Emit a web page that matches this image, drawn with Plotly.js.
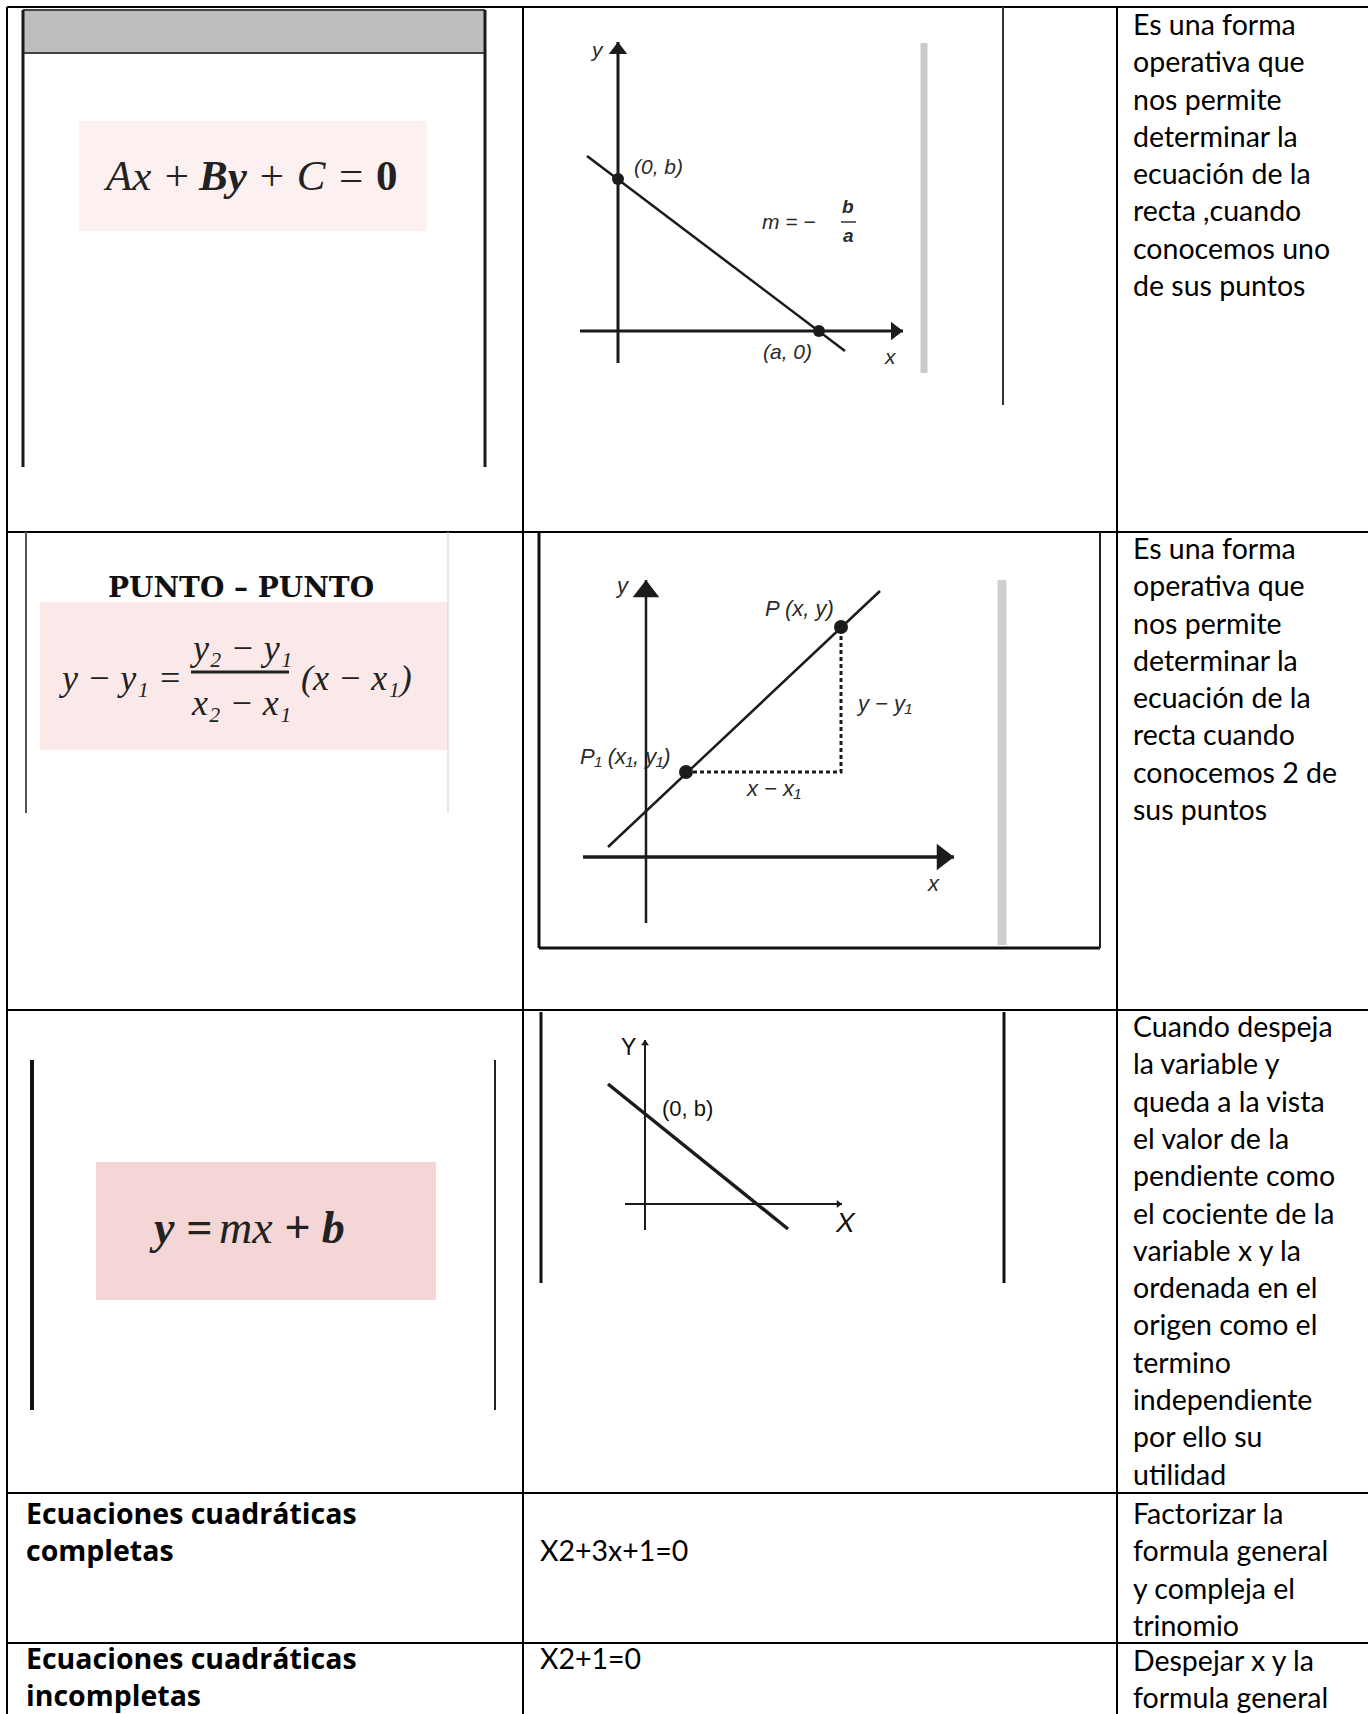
<!DOCTYPE html>
<html>
<head>
<meta charset="utf-8">
<script src="https://cdn.plot.ly/plotly-3.0.1.min.js"></script>
<style>
  html, body { margin: 0; padding: 0; background: #fff; }
  #graph { width: 1368px; height: 1714px; }
</style>
</head>
<body>
<div id="graph"></div>
<script>
// Page size in pixels
const W = 1368, H = 1714;

// Texts of the right column, one array per row
const descRow1 = ['Es una forma', 'operativa que', 'nos permite', 'determinar la',
  'ecuación de la', 'recta ,cuando', 'conocemos uno', 'de sus puntos'];
const descRow2 = ['Es una forma', 'operativa que', 'nos permite', 'determinar la',
  'ecuación de la', 'recta cuando', 'conocemos 2 de', 'sus puntos'];
const descRow3 = ['Cuando despeja', 'la variable y', 'queda a la vista', 'el valor de la',
  'pendiente como', 'el cociente de la', 'variable x y la', 'ordenada en el',
  'origen como el', 'termino', 'independiente', 'por ello su', 'utilidad'];
const descRow4 = ['Factorizar la', 'formula general', 'y compleja el', 'trinomio'];
const descRow5 = ['Despejar x y la', 'formula general'];

// Lower rows: names and example equations
const typeRow4 = ['Ecuaciones cuadráticas', 'completas'];
const typeRow5 = ['Ecuaciones cuadráticas', 'incompletas'];
const exampleRow4 = ['', 'X2+3x+1=0'];
const exampleRow5 = ['X2+1=0'];

// Diagram 1 (forma general) - origin where the axes cross
const d1AxisX = [-38, 285];
const d1AxisY = [-32, 289];
const d1LineX = [-31, 227];
const d1LineY = [175, -20];
const d1PointX = [0, 201];
const d1PointY = [152, 0];
const d1BarX = [306, 306];
const d1BarY = [288, -42];
const d1Labels = ['y', '(0, b)', '(a, 0)', 'x', 'm = −'];
const d1LabelX = [-21, 40, 169, 272, 171];
const d1LabelY = [281, 164, -20, -25, 109];

// Diagram 2 (punto - punto): P1 then P
const d2AxisX = [-63, 308];
const d2AxisY = [-66, 277];
const d2LineX = [-38, 234];
const d2LineY = [10, 266];
const d2PointX = [40, 195];
const d2PointY = [85, 230];
const d2BarX = [356, 356];
const d2BarY = [277, -88];
const d2Labels = ['y', 'P (x, y)', 'y − y₁', 'P₁ (x₁, y₁)', 'x − x₁', 'x'];
const d2LabelX = [-24, 153, 238, -21, 127, 287];
const d2LabelY = [272, 249, 154, 101, 69, -26];

// Diagram 3 (pendiente - ordenada)
const d3AxisX = [-20, 197];
const d3AxisY = [-26, 164];
const d3LineX = [-37, 143];
const d3LineY = [120, -25];
const d3Labels = ['Y', '(0, b)', 'X'];
const d3LabelX = [-17, 42, 200];
const d3LabelY = [157, 96, -18];

// ---- layout geometry (pixels) ----
const colEdges = [7, 523, 1117];
const rowEdges = [7, 532, 1010, 1493, 1643];
const LINE = 37.3;
const textFont = 'Lato, "Open Sans", sans-serif';
const boldFont = '"Open Sans", Lato, sans-serif';
const sans = 'Liberation Sans, Arial, sans-serif';
const serifFam = 'Liberation Serif, "Times New Roman", serif';
const INK = '#1b1b1b';

// frames of the three pictures in the middle column
const frames = [
  {x0: 536, x1: 1003, y0: 7, y1: 405, ox: 618, oy: 331},
  {x0: 539, x1: 1100, y0: 532, y1: 948, ox: 646, oy: 857},
  {x0: 541, x1: 1004, y0: 1012, y1: 1283, ox: 645, oy: 1204}
];

const px = x => x / W;
const py = y => 1 - y / H;

const traces = [];
const shapes = [];
const annotations = [];

function axisId(n) { return n === 1 ? '' : String(n); }

function seg(n, xs, ys, width, color, dash) {
  traces.push({
    type: 'scatter', mode: 'lines', x: xs, y: ys,
    xaxis: 'x' + axisId(n), yaxis: 'y' + axisId(n),
    line: {color: color || INK, width: width, dash: dash || 'solid'},
    hoverinfo: 'skip', showlegend: false, cliponaxis: false
  });
}

function dots(n, xs, ys, size, symbol) {
  traces.push({
    type: 'scatter', mode: 'markers', x: xs, y: ys,
    xaxis: 'x' + axisId(n), yaxis: 'y' + axisId(n),
    marker: {symbol: symbol || 'circle', size: size, color: INK, line: {width: 0}},
    hoverinfo: 'skip', showlegend: false, cliponaxis: false
  });
}

// axis arrows: marker tip sits at the end of each axis
function arrows(n, axisX, axisY, size) {
  dots(n, [axisX[1] - size / 2], [0], size, 'triangle-right');
  dots(n, [0], [axisY[1] - size / 2], size, 'triangle-up');
}

function labels(n, texts, xs, ys, font) {
  texts.forEach((t, i) => annotations.push({
    xref: 'x' + axisId(n), yref: 'y' + axisId(n), x: xs[i], y: ys[i],
    text: t, showarrow: false, xanchor: 'center', yanchor: 'middle',
    font: Array.isArray(font) ? font[i] : font
  }));
}

// ---- diagram 1 ----
const d1Font = {family: sans, size: 21, color: '#2a2a2a', style: 'italic'};
seg(1, d1BarX, d1BarY, 7, '#cacaca');
seg(1, d1AxisX, [0, 0], 3);
seg(1, [0, 0], d1AxisY, 3);
seg(1, d1LineX, d1LineY, 2.5);
dots(1, d1PointX, d1PointY, 12);
arrows(1, d1AxisX, d1AxisY, 16);
labels(1, d1Labels, d1LabelX, d1LabelY, d1Font);
labels(1, ['b', 'a'], [230, 230], [124, 95],
  {family: sans, size: 19, color: '#2a2a2a', style: 'italic', weight: 'bold'});

// ---- diagram 2 ----
seg(2, d2BarX, d2BarY, 9, '#cfcfcf');
seg(2, d2AxisX, [0, 0], 3.5);
seg(2, [0, 0], d2AxisY, 2.5);
seg(2, d2LineX, d2LineY, 2.5);
seg(2, [d2PointX[0], d2PointX[1], d2PointX[1]], [d2PointY[0], d2PointY[0], d2PointY[1]], 3, INK, '4px,3px');
dots(2, d2PointX, d2PointY, 14);
arrows(2, d2AxisX, d2AxisY, 23);
labels(2, d2Labels, d2LabelX, d2LabelY, {family: sans, size: 22, color: '#2a2a2a', style: 'italic'});

// ---- diagram 3 ----
seg(3, d3AxisX, [0, 0], 2);
seg(3, [0, 0], d3AxisY, 2);
seg(3, d3LineX, d3LineY, 3.5);
arrows(3, d3AxisX, d3AxisY, 7);
labels(3, d3Labels, d3LabelX, d3LabelY, [
  {family: sans, size: 23, color: '#111'},
  {family: sans, size: 22, color: '#111'},
  {family: sans, size: 28, color: '#111', style: 'italic'}
]);

// ---- table grid ----
colEdges.forEach(x => shapes.push({type: 'line', xref: 'paper', yref: 'paper',
  x0: px(x), x1: px(x), y0: py(rowEdges[0]), y1: py(H + 5), line: {color: '#000', width: 2}}));
rowEdges.forEach(y => shapes.push({type: 'line', xref: 'paper', yref: 'paper',
  x0: px(colEdges[0]), x1: px(W + 5), y0: py(y), y1: py(y), line: {color: '#000', width: 2}}));

function rect(x0, y0, x1, y1, fill, layer) {
  shapes.push({type: 'rect', xref: 'paper', yref: 'paper', x0: px(x0), x1: px(x1), y0: py(y1), y1: py(y0),
    fillcolor: fill, line: {width: 0}, layer: layer || 'below'});
}
function rule(x0, y0, x1, y1, width, color) {
  shapes.push({type: 'line', xref: 'paper', yref: 'paper', x0: px(x0), x1: px(x1), y0: py(y0), y1: py(y1),
    line: {color: color, width: width}});
}

// row 1 left picture: grey header with dark sides
rect(23, 10, 485, 53, '#bebebe');
rect(79, 121, 427, 231, '#fdf0f0');
rule(23, 10, 485, 10, 2, '#444');
rule(23, 53, 485, 53, 2, '#444');
rule(23, 10, 23, 467, 3, '#1a1a1a');
rule(485, 10, 485, 467, 3, '#1a1a1a');

// row 2 left picture
rect(40, 602, 448, 750, '#fbe9e9');
rule(26, 532, 26, 813, 2, '#555');
rule(448, 532, 448, 813, 1, '#cccccc');
rule(191, 672, 289, 672, 3, '#222');

// row 3 left picture
rect(96, 1162, 436, 1300, '#f5d6d6');
rule(32, 1060, 32, 1410, 4, '#111');
rule(495, 1060, 495, 1410, 2, '#222');

// frames of the middle pictures
rule(1003, 7, 1003, 405, 2, '#333');
rule(539, 532, 539, 948, 3, '#111');
rule(539, 948, 1100, 948, 3, '#111');
rule(1100, 532, 1100, 948, 2, '#222');
rule(541, 1012, 541, 1283, 3, '#111');
rule(1004, 1012, 1004, 1283, 3, '#111');
// fraction bar of m = -b/a
shapes.push({type: 'line', xref: 'x', yref: 'y', x0: 223, x1: 238, y0: 109, y1: 109, line: {color: '#333', width: 1.5}});

// ---- formulas in the left column ----
function note(x, y, text, font, anchor) {
  annotations.push({xref: 'paper', yref: 'paper', x: px(x), y: py(y), text: text, showarrow: false,
    xanchor: anchor || 'center', yanchor: 'middle', font: font});
}

// a formula made of pieces in different styles, centred on (xc, y)
const ctx = document.createElement('canvas').getContext('2d');
function measure(t, f) {
  ctx.font = (f.style || 'normal') + ' ' + (f.weight || 'normal') + ' ' + f.size + 'px ' + f.family;
  return ctx.measureText(t).width;
}
function formula(pieces, xc, y) {
  const gaps = pieces.map(p => measure(' ', p.font));
  const widths = pieces.map(p => measure(p.text, p.font));
  const total = widths.reduce((a, b) => a + b, 0) + gaps.slice(1).reduce((a, b) => a + b, 0);
  let x = xc - total / 2;
  pieces.forEach((p, i) => {
    if (i > 0) x += gaps[i];
    note(x, y, p.text, p.font, 'left');
    x += widths[i];
  });
}

const it43 = {family: serifFam, size: 43, color: '#222', style: 'italic'};
const bi43 = {family: serifFam, size: 43, color: '#222', style: 'italic', weight: 'bold'};
const b43 = {family: serifFam, size: 43, color: '#222', weight: 'bold'};
formula([
  {text: 'Ax +', font: it43}, {text: 'By', font: bi43},
  {text: '+ C =', font: it43}, {text: '0', font: b43}
], 248, 175);

note(241, 588, 'PUNTO – PUNTO', {family: 'DejaVu Serif, serif', size: 28, color: '#111', weight: 'bold'});
const serif2 = {family: serifFam, size: 36, color: '#222', style: 'italic'};
note(120, 678, 'y − y₁ =', serif2);
note(241, 648, 'y₂ − y₁', serif2);
note(241, 703, 'x₂ − x₁', serif2);
note(357, 678, '(x − x₁)', serif2);

const bi46 = {family: serifFam, size: 46, color: '#222', style: 'italic', weight: 'bold'};
const it46 = {family: serifFam, size: 46, color: '#222', style: 'italic'};
formula([
  {text: 'y =', font: bi46}, {text: 'mx', font: it46}, {text: '+ b', font: bi46}
], 245, 1227);

// ---- text cells ----
function textLines(lines, x, yFirst, bold) {
  lines.forEach((t, i) => {
    if (!t) return;
    note(x, yFirst + i * LINE, t,
      bold ? {family: boldFont, size: 28.5, color: '#000', weight: 'bold'}
           : {family: textFont, size: 28.5, color: '#000'}, 'left');
  });
}
const descriptions = [descRow1, descRow2, descRow3, descRow4, descRow5];
const descStart = [24, 548, 1026, 1513, 1660];
descriptions.forEach((d, i) => textLines(d, 1131, descStart[i]));
textLines(typeRow4, 24, 1513, true);
textLines(typeRow5, 24, 1658, true);
textLines(exampleRow4, 538, 1513);
textLines(exampleRow5, 538, 1658);

// ---- axes for the three pictures ----
const layout = {
  width: W, height: H,
  margin: {l: 0, r: 0, t: 0, b: 0},
  paper_bgcolor: '#ffffff',
  plot_bgcolor: 'rgba(0,0,0,0)',
  showlegend: false,
  shapes: shapes,
  annotations: annotations
};
frames.forEach((f, i) => {
  const id = axisId(i + 1);
  layout['xaxis' + id] = {domain: [px(f.x0), px(f.x1)], range: [f.x0 - f.ox, f.x1 - f.ox],
    visible: false, fixedrange: true, anchor: 'y' + id};
  layout['yaxis' + id] = {domain: [py(f.y1), py(f.y0)], range: [f.oy - f.y1, f.oy - f.y0],
    visible: false, fixedrange: true, anchor: 'x' + id};
});

Plotly.newPlot('graph', traces, layout, {staticPlot: true, displayModeBar: false});
</script>
</body>
</html>
